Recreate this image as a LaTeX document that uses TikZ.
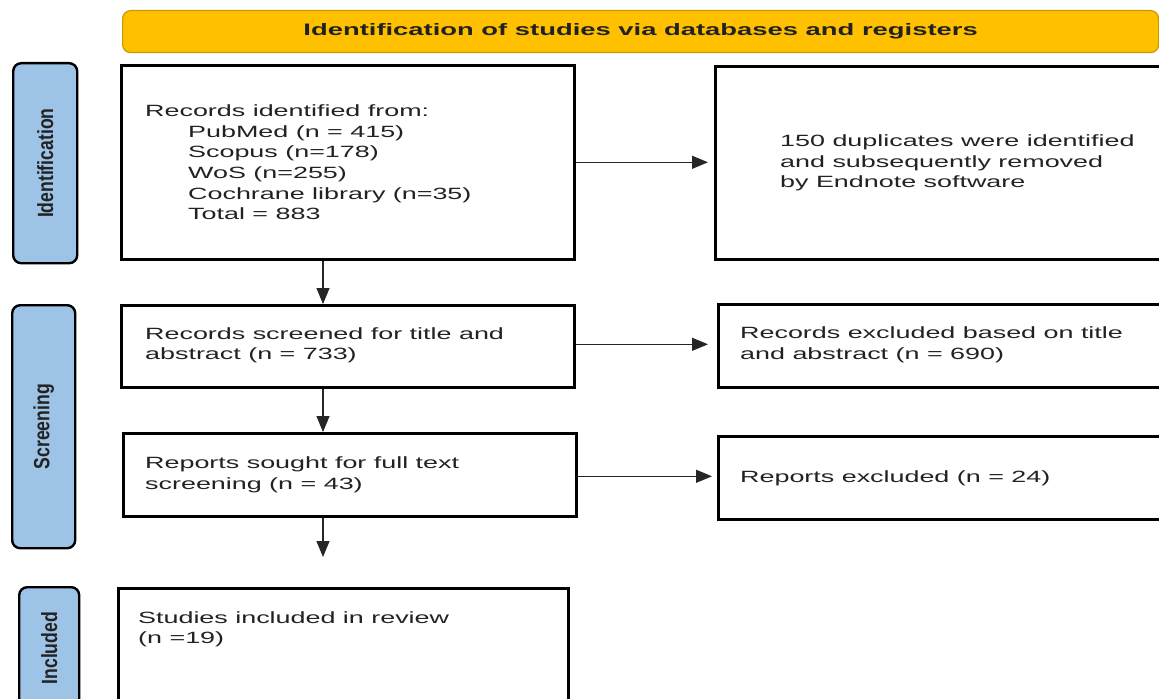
\documentclass[tikz,border=0pt]{standalone}
\usepackage{fontspec}
\setmainfont[FakeStretch=1.65]{Liberation Sans}
\newfontfamily\narrowfont[FakeStretch=0.8]{Liberation Sans}
\usetikzlibrary{arrows.meta}
\definecolor{hdrfill}{HTML}{FFC000}
\definecolor{hdrline}{HTML}{C99A00}
\definecolor{sidefill}{HTML}{9DC3E6}
\definecolor{txtcol}{HTML}{222222}
\tikzset{
  box/.style={draw=black, line width=2.6bp, fill=white, rectangle, inner sep=0pt},
  side/.style={draw=black, line width=2.4bp, fill=sidefill, rounded corners=8bp, inner sep=0pt},
  hdr/.style={draw=hdrline, line width=1.2bp, fill=hdrfill, rounded corners=8bp, inner sep=0pt,
    font=\fontsize{16.6bp}{20bp}\selectfont\bfseries, text=txtcol},
  txt/.style={inner sep=0pt, align=left, anchor=west, text=txtcol,
    font=\fontsize{16.3bp}{20.7bp}\selectfont},
  sidelab/.style={inner sep=0pt, rotate=90, text=txtcol,
    font=\fontsize{22bp}{24bp}\narrowfont\bfseries},
  arr/.style={draw=black!85, line width=1.2bp, -{Triangle[length=16bp,width=13bp]}}
}
\begin{document}
\begin{tikzpicture}[x=1bp,y=-1bp]
\useasboundingbox (0,0) rectangle (1159,699);
\clip (0,0) rectangle (1159,699);
% header
\node[hdr, minimum width=1036bp, minimum height=42bp, anchor=north west] (hdr) at (122,10)
  {Identification of studies via databases and registers};
% side labels
\node[side, minimum width=64bp, minimum height=200bp, anchor=north west] (sideI) at (12,62) {};
\node[sidelab] (sideIt) at (sideI.center) {Identification};
\node[side, minimum width=63bp, minimum height=243bp, anchor=north west] (sideS) at (11,304) {};
\node[sidelab] (sideSt) at (sideS.center) {Screening};
\node[side, minimum width=60bp, minimum height=122bp, anchor=north west] (sideN) at (18,586) {};
\node[sidelab] (sideNt) at (sideN.center) {Included};
% boxes
\node[box, minimum width=453bp, minimum height=194bp, anchor=north west] (rec) at (120,64) {};
\node[txt] (recT) at ([xshift=25bp]rec.west)
  {Records identified from:\\
   \hspace*{43bp}PubMed (n = 415)\\
   \hspace*{43bp}Scopus (n=178)\\
   \hspace*{43bp}WoS (n=255)\\
   \hspace*{43bp}Cochrane library (n=35)\\
   \hspace*{43bp}Total = 883};
\node[box, minimum width=500bp, minimum height=193bp, anchor=north west] (dup) at (714,65) {};
\node[txt] (dupT) at ([xshift=66bp]dup.west)
  {150 duplicates were identified\\ and subsequently removed\\ by Endnote software};
\node[box, minimum width=453bp, minimum height=82bp, anchor=north west] (scr) at (120,304) {};
\node[txt] (scrT) at ([xshift=25bp,yshift=1bp]scr.west)
  {Records screened for title and\\ abstract (n = 733)};
\node[box, minimum width=500bp, minimum height=83bp, anchor=north west] (exc1) at (717,303) {};
\node[txt] (exc1T) at ([xshift=23bp,yshift=1bp]exc1.west)
  {Records excluded based on title\\ and abstract (n = 690)};
\node[box, minimum width=453bp, minimum height=83bp, anchor=north west] (sou) at (122,432) {};
\node[txt] (souT) at ([xshift=23bp]sou.west)
  {Reports sought for full text\\ screening (n = 43)};
\node[box, minimum width=500bp, minimum height=83bp, anchor=north west] (exc2) at (717,435) {};
\node[txt] (exc2T) at ([xshift=23bp]exc2.west)
  {Reports excluded (n = 24)};
\node[box, minimum width=450bp, minimum height=140bp, anchor=north west] (inc) at (117,587) {};
\node[txt, anchor=north west] (incT) at ([xshift=21bp,yshift=-24bp]inc.north west)
  {Studies included in review\\ (n =19)};
% arrows
\coordinate (ax) at (323,0);
\coordinate (aend) at (323,557);
\draw[arr] (rec.south -| ax) -- (scr.north -| ax);
\draw[arr] (scr.south -| ax) -- (sou.north -| ax);
\draw[arr] (sou.south -| ax) -- (aend);
\draw[arr, shorten >=6bp] (rec.east) -- (rec.east -| dup.west);
\draw[arr, shorten >=9bp] ([yshift=2bp]scr.east) -- ([yshift=2bp]scr.east -| exc1.west);
\draw[arr, shorten >=5bp] ([yshift=-1.5bp]sou.east) -- ([yshift=-1.5bp]sou.east -| exc2.west);
\end{tikzpicture}
\end{document}
